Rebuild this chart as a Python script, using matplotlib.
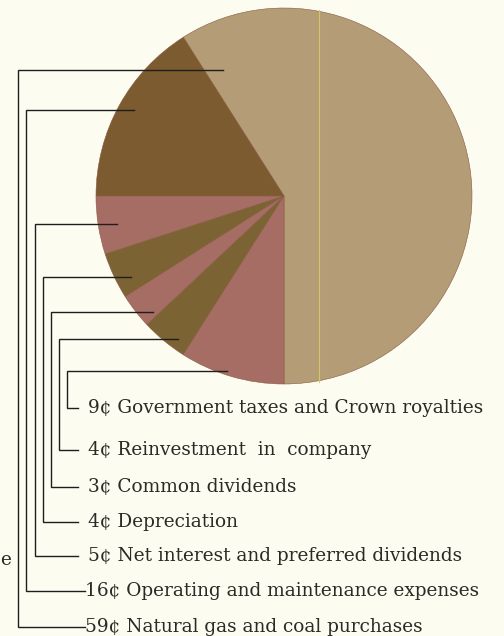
import matplotlib.pyplot as plt
import numpy as np

# Where a dollar of revenue goes (cents)
values = [59, 16, 5, 4, 3, 4, 9]
labels = ["Natural gas and coal purchases",
          "Operating and maintenance expenses",
          "Net interest and preferred dividends",
          "Depreciation",
          "Common dividends",
          "Reinvestment  in  company",
          "Government taxes and Crown royalties"]
colors = ["#b39c76", "#7b5b2f", "#a56d64", "#7c6334", "#a56d64", "#7c6334", "#a56d64"]

#   layout (pixel coords, measured from the top)
#===============================================
W, H = 504, 636
cx, cy, r = 284, 196, 188
lead_y = [70, 110, 224, 277, 312, 339, 371]      # where each leader leaves the pie
lead_x_in = [223, 134, 117, 131, 153, 178, 227]
lead_x_v = [18, 26, 35, 43, 51, 59, 67]
text_y = [627, 591, 556, 522, 487, 450, 408]
tick_end = [85, 85, 78, 78, 78, 78, 78]
text_x = [85, 85, 88, 88, 88, 88, 88]

def fy(y):
    return H - y

fig = plt.figure(figsize=(W / 100, H / 100), dpi=100)
fig.patch.set_facecolor("#fdfcf1")
ax = fig.add_axes([0, 0, 1, 1])
ax.set_facecolor("#fdfcf1")

ax.pie(values, colors=colors, startangle=270, counterclock=True,
       center=(cx, fy(cy)), radius=r,
       wedgeprops=dict(linewidth=0.4, edgecolor="#8c5a42"))

# faint fold line in the scan
ax.plot([319, 319], [fy(cy - r + 2), fy(cy + r - 2)], color="#d6c660", lw=0.8, zorder=3)

for i in range(len(values)):
    xs = [lead_x_in[i], lead_x_v[i], lead_x_v[i], tick_end[i]]
    ys = [fy(lead_y[i]), fy(lead_y[i]), fy(text_y[i]), fy(text_y[i])]
    ax.plot(xs, ys, color="#1e1e1e", lw=1.0, zorder=4, solid_joinstyle="miter")
    ax.text(text_x[i], fy(text_y[i]), "%d\u00a2 %s" % (values[i], labels[i]),
            ha="left", va="center", fontsize=13.3, family="DejaVu Serif", color="#2b2a26")

# letter from the neighbouring column
ax.text(0, fy(560), "e", ha="left", va="center", fontsize=13.3, family="DejaVu Serif", color="#2b2a26")

ax.set_xlim(0, W)
ax.set_ylim(0, H)
ax.set_aspect("auto")
ax.axis("off")
fig.savefig("out.png", dpi=100, facecolor=fig.get_facecolor())
